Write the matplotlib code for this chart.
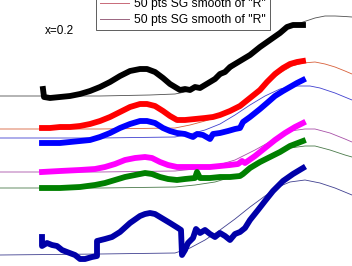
"""
Stacked traces with SG smooth fits
"""

import numpy as np
import matplotlib.pyplot as plt
from matplotlib.lines import Line2D

plt.rcParams['font.family'] = ['Liberation Sans', 'DejaVu Sans']

# thick measured traces (x, height)
x_black = [43, 44, 50, 60, 70, 80, 90, 100, 110, 120, 130, 140, 147, 155, 163, 170, 175, 180,
           185, 190, 195, 200, 205, 210, 215, 220, 225, 230, 240, 250, 260, 270, 280, 287, 293, 303]
y_black = [177, 169, 168, 169, 170, 172, 175, 179, 184, 190, 195, 197, 197, 194, 188, 182, 179, 176,
           177, 176, 179, 178, 181, 184, 187, 192, 194, 199, 205, 211, 219, 226, 233, 239, 241, 241]

x_red = [42, 50, 60, 70, 80, 90, 100, 110, 120, 130, 140, 147, 155, 163, 170, 177, 185, 195,
         205, 213, 220, 230, 240, 250, 260, 267, 275, 283, 290, 297, 303]
y_red = [138, 138, 139, 139, 140, 142, 145, 149, 154, 159, 162, 162, 160, 155, 150, 146, 146, 147,
         148, 149, 151, 155, 160, 168, 176, 184, 192, 198, 202, 204, 205]

x_blue = [42, 50, 60, 70, 80, 90, 100, 110, 120, 130, 140, 147, 155, 163, 170, 177, 185, 193,
          197, 203, 210, 213, 220, 228, 235, 240, 243, 250, 260, 267, 275, 283, 290, 297, 303]
y_blue = [123, 123, 123, 124, 125, 126, 129, 133, 138, 142, 145, 145, 143, 138, 135, 133, 132, 129,
          132, 131, 127, 132, 133, 135, 137, 138, 144, 149, 157, 163, 170, 175, 179, 183, 186]

x_mag = [42, 60, 80, 95, 105, 115, 125, 135, 145, 152, 160, 168, 177, 190, 200, 210, 220, 230,
         238, 242, 245, 255, 265, 275, 285, 295, 303]
y_mag = [94, 95, 96, 97, 99, 102, 106, 108, 109, 108, 104, 101, 99, 99, 99, 99, 100, 101,
         102, 105, 103, 110, 118, 126, 133, 139, 143]

x_green = [42, 60, 80, 95, 105, 115, 125, 135, 145, 152, 160, 168, 177, 185, 195, 197, 200, 210,
           220, 230, 240, 243, 250, 260, 270, 280, 290, 303]
y_green = [78, 78, 79, 81, 83, 86, 89, 91, 93, 92, 89, 87, 86, 87, 88, 94, 88, 88,
           89, 89, 90, 92, 98, 104, 109, 114, 120, 125]

x_navy = [42, 42, 47, 52, 57, 62, 67, 75, 80, 85, 92, 97, 97, 105, 112, 120, 130, 140, 145, 150,
          155, 160, 170, 178, 181, 182, 185, 188, 193, 196, 200, 205, 210, 215, 220, 225, 230, 235,
          240, 245, 250, 258, 265, 273, 283, 293, 303]
y_navy = [29, 20, 23, 21, 20, 16, 14, 11, 7, 7, 9, 10, 25, 27, 29, 34, 43, 50, 52, 53,
          52, 49, 43, 38, 36, 11, 16, 23, 28, 37, 33, 36, 32, 29, 33, 30, 26, 32,
          34, 38, 46, 56, 65, 75, 85, 92, 98]

# thin fit curves
fx_black = [0, 50, 100, 150, 175, 185, 200, 215, 230, 250, 270, 290, 303, 315, 325, 335, 345, 352]
fy_black = [170, 170, 170, 171, 172, 174, 178, 186, 196, 211, 226, 239, 244, 248, 250, 250, 249.5, 249]

fx_red = [0, 100, 175, 190, 205, 220, 235, 250, 265, 280, 292, 303, 315, 325, 335, 345, 352]
fy_red = [137, 137, 138, 141, 145, 150, 158, 168, 181, 193, 200, 203, 204, 202, 199, 195, 192]

fx_blue = [0, 100, 175, 190, 205, 220, 235, 250, 265, 280, 295, 310, 320, 335, 352]
fy_blue = [128, 128, 129, 132, 136, 142, 151, 161, 170, 177, 180, 180, 178, 173, 166]

fx_mag = [0, 100, 175, 195, 215, 235, 255, 275, 290, 305, 315, 330, 345, 352]
fy_mag = [94, 94, 95, 97, 100, 106, 116, 127, 135, 137, 137, 133, 127, 124]

fx_green = [0, 100, 175, 195, 215, 235, 255, 275, 290, 305, 315, 330, 345, 352]
fy_green = [78, 78, 79, 81, 84, 90, 99, 110, 118, 120, 120, 116, 111, 109]

fx_navy = [0, 100, 175, 190, 205, 220, 235, 250, 265, 278, 290, 305, 320, 335, 352]
fy_navy = [11, 12, 13, 18, 26, 36, 47, 59, 70, 79, 84, 86, 83, 78, 71]

fig = plt.figure(figsize=(3.52, 2.66), dpi=100)
ax = fig.add_axes([0, 0, 1, 1])
ax.set_xlim(0, 352)
ax.set_ylim(0, 266)
ax.axis('off')

thick = 4.2
ax.plot(fx_black, fy_black, color='#505050', lw=0.6)
ax.plot(fx_red, fy_red, color='#d8603a', lw=0.6)
ax.plot(fx_blue, fy_blue, color='#4040d0', lw=0.6)
ax.plot(fx_mag, fy_mag, color='#a850a8', lw=0.6)
ax.plot(fx_green, fy_green, color='#4a7a4a', lw=0.6)
ax.plot(fx_navy, fy_navy, color='#404090', lw=0.6)

ax.plot(x_black, y_black, color='black', lw=thick, solid_joinstyle='round')
ax.plot(x_red, y_red, color='#ff0000', lw=thick, solid_joinstyle='round')
ax.plot(x_blue, y_blue, color='#0000ff', lw=thick, solid_joinstyle='round')
ax.plot(x_mag, y_mag, color='#ff00ff', lw=thick, solid_joinstyle='round')
ax.plot(x_green, y_green, color='#008000', lw=thick, solid_joinstyle='round')
ax.plot(x_navy, y_navy, color='#0000a8', lw=thick, solid_joinstyle='round')

ax.text(45, 235, 'x=0.2', fontsize=8.5, va='center', ha='left')

handles = [Line2D([], [], color='#c86a78', lw=0.7),
           Line2D([], [], color='#9a6580', lw=0.7)]
leg = ax.legend(handles, ['50 pts SG smooth of "R"', '50 pts SG smooth of "R"'],
                loc='lower left', bbox_to_anchor=(96 / 352, 236 / 266),
                fontsize=8.7, frameon=True, fancybox=False, framealpha=1,
                borderaxespad=0, borderpad=0.35, labelspacing=0.3,
                handlelength=2.4, handletextpad=0.4)
leg.get_frame().set_edgecolor('#444444')
leg.get_frame().set_linewidth(0.6)

plt.savefig('out.png', dpi=100)
